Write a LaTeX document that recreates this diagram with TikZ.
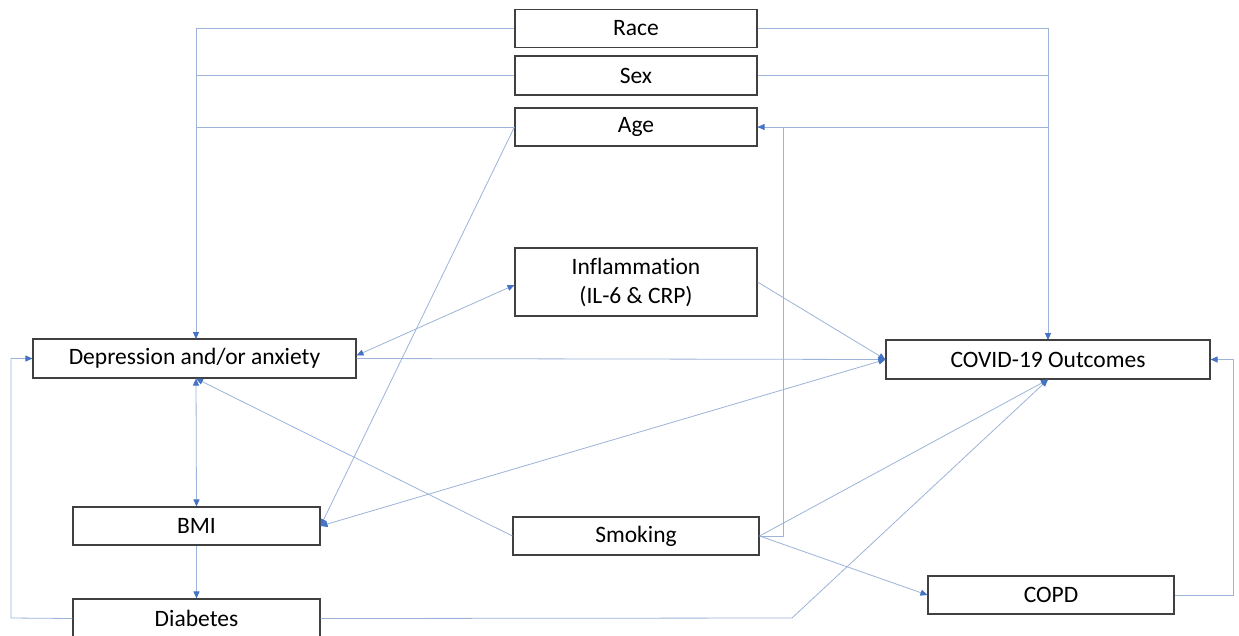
\documentclass[tikz,border=0pt]{standalone}
\usepackage{fontspec}
\setmainfont{Carlito}[Ligatures={NoCommon}]
\usetikzlibrary{arrows.meta}
\definecolor{linec}{HTML}{9DB3DA}
\definecolor{arrc}{HTML}{4472C4}
\definecolor{boxc}{HTML}{404040}
\begin{document}
\begin{tikzpicture}[x=1pt,y=-1pt,
  box/.style={draw=boxc,line width=1.1pt,fill=white,inner sep=0pt,align=center,font=\fontsize{23.5}{29}\selectfont},
  conn/.style={draw=linec,line width=0.8pt},
  arr/.style={conn,-{Triangle[length=7pt,width=6pt,color=arrc]}},
  darr/.style={conn,{Triangle[length=7pt,width=6pt,color=arrc]}-{Triangle[length=7pt,width=6pt,color=arrc]}}]
\useasboundingbox[fill=white] (0,0) rectangle (1239,635);
% nodes
\node[box,minimum width=242pt,minimum height=38pt] (race) at (636,28.5) {Race};
\node[box,minimum width=242pt,minimum height=39pt] (sex) at (636,75.5) {Sex};
\node[box,minimum width=242pt,minimum height=38pt] (age) at (636,127) {Age};
\node[box,minimum width=242pt,minimum height=68pt] (infl) at (636,282) {Inflammation\\(IL-6 \& CRP)};
\node[box,minimum width=323pt,minimum height=39pt] (dep) at (194.5,358.5) {Depression and/or anxiety};
\node[box,minimum width=324pt,minimum height=39pt] (covid) at (1048,359.5) {COVID-19 Outcomes};
\node[box,minimum width=247pt,minimum height=38pt] (bmi) at (196.5,526) {BMI};
\node[box,minimum width=247pt,minimum height=39pt] (diab) at (196.5,618.5) {Diabetes};
\node[box,minimum width=246pt,minimum height=38pt] (smok) at (636,536) {Smoking};
\node[box,minimum width=246pt,minimum height=38pt] (copd) at (1051,595) {COPD};
% helper coordinates
\coordinate (lt) at (196,339);
\coordinate (rt) at (1048,340);
\coordinate (lft) at (11,618);
\coordinate (dbend) at (792,618);
\coordinate (sbend) at (783,536);
\coordinate (cbend) at (1233,595);
% confounders left
\draw[arr] (race.west) -| (lt);
\draw[conn] (sex.west) -- (lt |- sex.west);
\draw[conn] (age.west) -- (lt |- age.west);
% confounders right
\draw[arr] (race.east) -| (rt);
\draw[conn] (sex.east) -- (rt |- sex.east);
\draw[conn] (age.east) -- (rt |- age.east);
% inflammation
\draw[darr] ([yshift=3pt]dep.east) -- ([yshift=-3pt]infl.west);
\draw[arr] (infl.east) -- (covid.west);
% depression to covid
\draw[arr] (dep.east) -- (covid.west);
% bmi
\draw[darr] (bmi.east) -- (covid.west);
\draw[arr] (age.west) -- (bmi.east);
\draw[darr] (lt |- dep.south) -- (bmi.north);
\draw[arr] (bmi.south) -- (diab.north);
% diabetes
\draw[arr] (diab.west) -- (lft) |- (dep.west);
\draw[arr] (diab.east) -- (dbend) -- (covid.south);
% smoking
\draw[arr] (smok.east) -- (covid.south);
\draw[arr] (smok.west) -- (lt |- dep.south);
\draw[arr] (smok.east) -- (sbend) |- (age.east);
\draw[arr] (smok.east) -- (copd.west);
% copd
\draw[arr] (copd.east) -- (cbend) |- (covid.east);
\end{tikzpicture}
\end{document}
